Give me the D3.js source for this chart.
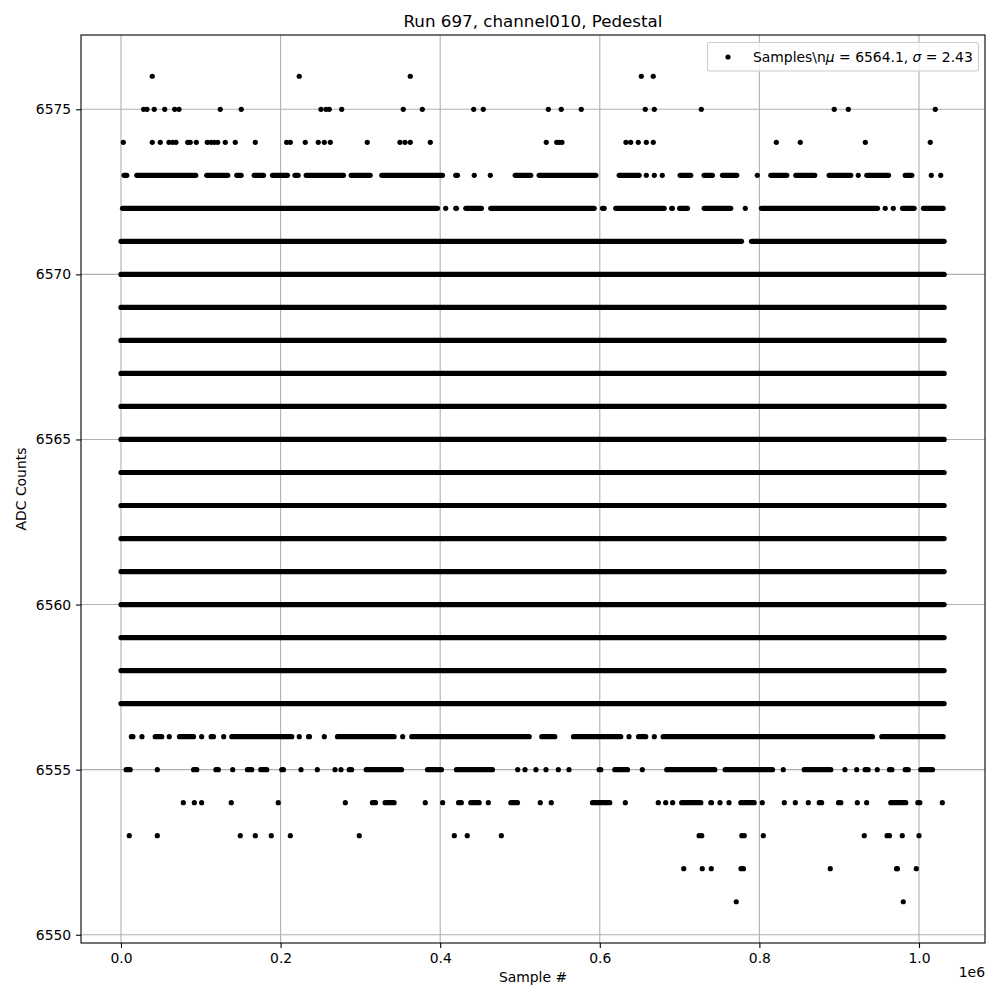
<!DOCTYPE html>
<html>
<head>
<meta charset="utf-8">
<script src="https://cdn.jsdelivr.net/npm/d3@7"></script>
<style>
  html, body { margin: 0; padding: 0; background: #fff; }
  text { font-family: "DejaVu Sans", sans-serif; fill: #000; }
</style>
</head>
<body>
<svg id="chart" width="1000" height="1000"></svg>
<script>
// ---------------- DATA ----------------
// Sample positions are in thousands of samples.
// A plain number = one sample; a pair [from, to] = a dense run of samples at that ADC value.
const chartTitle = "Run 697, channel010, Pedestal";
const xLabel = "Sample #";
const yLabel = "ADC Counts";
const legendLabel = "Samples\\n";
const meanValue = 6564.1;
const sigmaValue = 2.43;

const xTickValues = [0, 200000, 400000, 600000, 800000, 1000000];
const xTickLabels = ["0.0", "0.2", "0.4", "0.6", "0.8", "1.0"];
const xOffsetLabel = "1e6";
const yTickValues = [6550, 6555, 6560, 6565, 6570, 6575];
const yTickLabels = ["6550", "6555", "6560", "6565", "6570", "6575"];
const xLimits = [-50100, 1082700];
const yLimits = [6549.75, 6577.25];

const lastSample = 1031.5;

const samples6576 = [39.2, 223.4, 362.5, 652.0, 667.0];
const samples6575 = [28.4, 32.6, 41.7, 54.8, 67.3, 72.7, 124.4, 150.7, 250.6, 256.9, 261.0, 276.6,
  353.7, 377.6, 442.0, 454.0, 535.5, 551.7, 576.8, 657.0, 668.3, 727.2, 893.8, 911.4, 1020.4];
const samples6574 = [2.9, 39.2, 49.2, 60.1, 64.8, 68.9, 83.6, 86.8, 94.4, 108.1, 112.8, 116.9, 121.2,
  130.7, 143.2, 168.3, 207.6, 212.2, 230.9, 247.2, 254.8, 262.3, 308.6, 349.6, 355.9, 362.5, 387.6,
  532.9, 546.0, 549.2, 552.6, 632.8, 638.7, 648.2, 658.3, 667.0, 821.2, 851.2, 932.7, 1014.1];
const samples6573 = [[3.9, 7.3], [19.8, 93.7], [107.5, 133.8], [145.1, 150.6], [166.9, 178.6],
  [189.8, 208.6], [218, 222], [232.1, 278.8], [288.5, 312.3], [326.8, 402.9], [419.5, 421.7],
  442.7, 462.8, [494.0, 513.5], [524.0, 595.0], [624.3, 649.3], 658.3, 668.3, 678.3,
  [700.7, 714.0], [730.7, 741.1], [753.7, 771.6], 797.4, [814.3, 834.3], [845.6, 869.4],
  [887.4, 914.5], 923.9, [934.6, 961.8], [982.7, 991.0], 1015.4, 1027.2];
const samples6572 = [[1.9, 396.6], 406.9, [419.5, 420.4], [432.1, 451.7], [463.4, 593.0],
  [603.4, 605.5], [620.0, 680.7], [690.0, 691.0], [700.0, 709.9], [730.8, 764.1], 782.3,
  [802.6, 948.0], 957.7, 967.8, [979.3, 993.9], [1005.6, 1030.3]];
const samples6571 = [[0, 777.6], [790.1, lastSample]];
const samplesFull = [[0, lastSample]];   // 6557 ... 6570 are filled over the whole run
const samples6556 = [[13, 15], 26.3, [42.9, 51.1], 60.5, [73.3, 90.9], 101.1, [113.0, 115.9], 128.7,
  [138.8, 214.0], 223.4, [235.0, 236.2], 254.8, [271.3, 342.3], 353.0, [364.4, 511.5],
  [527.3, 543.6], [567.0, 626.3], 636.6, [648.5, 657.6], 668.3, [679.4, 941.7], [953.4, 1030.3]];
const samples6555 = [[6.5, 11.5], 45.5, [91, 95], [119, 122], 140.0, [158.5, 163.9], [175.2, 182.7],
  [201.5, 203.6], 225.6, 246.0, 268.2, 275.7, [286, 289], [307.3, 351.5], [384.1, 401.6],
  [420.4, 465.5], 497.1, 506.3, 520.0, 532.6, 548.0, 561.4, [599.2, 601.3], [618.8, 634.7], 653.3,
  [683.9, 744.1], [757.1, 816.4], 829.9, [856.1, 889.5], 907.2, 921.9, [932.5, 936.3], 947.7,
  [963, 966], [982.7, 986.5], [1002.2, 1016.9]];
const samples6554 = [78.1, 91.9, 101.1, 138.2, 197.1, 281.1, [315, 319], [331, 342.3], 381.3, 403.1,
  [423, 426.5], [438.3, 448.9], 460.3, [488.5, 496.9], 525.4, 539.2, [590.8, 612.5], 632.0, 673.3,
  682.6, 691.3, [702.6, 726.6], [739.1, 740.0], 750.6, 761.9, [776.7, 793.5], 803.6, 831.2, 845.0,
  861.3, [875, 878], [899.1, 902.0], 922.7, 934.4, [964.6, 983.4], [998.5, 1001], 1029.2];
const samples6553 = [10.4, 45.5, 149.5, 168.3, 188.3, 212.2, 298.6, 417.7, 433.9, 476.6, 724.5,
  727.8, 778.0, 781.0, 804.9, 931.4, 960.0, 963.0, 979.0, 1000.0];
const samples6552 = [705.2, 728.4, 739.7, 777.0, 780.0, 888.8, 971.8, 973.0, 996.6];
const samples6551 = [771.0, 980.3];

const adcRows = [
  [6576, samples6576], [6575, samples6575], [6574, samples6574], [6573, samples6573],
  [6572, samples6572], [6571, samples6571],
  [6570, samplesFull], [6569, samplesFull], [6568, samplesFull], [6567, samplesFull],
  [6566, samplesFull], [6565, samplesFull], [6564, samplesFull], [6563, samplesFull],
  [6562, samplesFull], [6561, samplesFull], [6560, samplesFull], [6559, samplesFull],
  [6558, samplesFull], [6557, samplesFull],
  [6556, samples6556], [6555, samples6555], [6554, samples6554], [6553, samples6553],
  [6552, samples6552], [6551, samples6551]
];

// ---------------- CHART ----------------
(function () {
const svg = d3.select("#chart");
const axL = 81, axR = 985, axT = 35, axB = 943;
const fs = 13.9;
const markerR = 2.6;

const x = d3.scaleLinear().domain(xLimits).range([axL, axR]);
const y = d3.scaleLinear().domain(yLimits).range([axB, axT]);

svg.append("rect").attr("width", 1000).attr("height", 1000).attr("fill", "#fff");

// grid
const grid = svg.append("g");
grid.selectAll(".gx").data(xTickValues).join("line")
  .attr("x1", d => x(d)).attr("x2", d => x(d)).attr("y1", axT).attr("y2", axB)
  .attr("stroke", "#b0b0b0").attr("stroke-width", 1.1);
grid.selectAll(".gy").data(yTickValues).join("line")
  .attr("x1", axL).attr("x2", axR).attr("y1", d => y(d)).attr("y2", d => y(d))
  .attr("stroke", "#b0b0b0").attr("stroke-width", 1.1);

// data
const runs = [], points = [];
adcRows.forEach(([adc, items]) => {
  items.forEach(it => {
    if (Array.isArray(it)) runs.push({adc, from: it[0] * 1000, to: it[1] * 1000});
    else points.push({adc, at: it * 1000});
  });
});
const plot = svg.append("g");
plot.selectAll("line.run").data(runs).join("line").attr("class", "run")
  .attr("x1", d => x(d.from)).attr("x2", d => x(d.to))
  .attr("y1", d => y(d.adc)).attr("y2", d => y(d.adc))
  .attr("stroke", "#000").attr("stroke-width", markerR * 2).attr("stroke-linecap", "round");
plot.selectAll("circle.pt").data(points).join("circle").attr("class", "pt")
  .attr("cx", d => x(d.at)).attr("cy", d => y(d.adc)).attr("r", markerR).attr("fill", "#000");

// spines
svg.append("rect").attr("x", axL).attr("y", axT).attr("width", axR - axL).attr("height", axB - axT)
  .attr("fill", "none").attr("stroke", "#000").attr("stroke-width", 1.1);

// x axis
const xAxis = d3.axisBottom(x).tickValues(xTickValues).tickSizeInner(4.9).tickSizeOuter(0).tickPadding(4.9)
  .tickFormat((d, i) => xTickLabels[i]);
const gx = svg.append("g").attr("transform", `translate(0,${axB})`).call(xAxis);
gx.select(".domain").remove();
gx.selectAll(".tick line").attr("stroke", "#000").attr("stroke-width", 1.1);
gx.selectAll(".tick text").attr("font-size", fs).attr("font-family", "DejaVu Sans").attr("fill", "#000");

// y axis
const yAxis = d3.axisLeft(y).tickValues(yTickValues).tickSizeInner(4.9).tickSizeOuter(0).tickPadding(4.9)
  .tickFormat((d, i) => yTickLabels[i]);
const gy = svg.append("g").attr("transform", `translate(${axL},0)`).call(yAxis);
gy.select(".domain").remove();
gy.selectAll(".tick line").attr("stroke", "#000").attr("stroke-width", 1.1);
gy.selectAll(".tick text").attr("font-size", fs).attr("font-family", "DejaVu Sans").attr("fill", "#000");

// offset text
svg.append("text").attr("x", axR).attr("y", 977).attr("text-anchor", "end")
  .attr("font-size", fs).text(xOffsetLabel);

// labels
svg.append("text").attr("x", (axL + axR) / 2).attr("y", 982).attr("text-anchor", "middle")
  .attr("font-size", fs).text(xLabel);
svg.append("text").attr("transform", `translate(26,${(axT + axB) / 2}) rotate(-90)`)
  .attr("text-anchor", "middle").attr("font-size", fs).text(yLabel);
svg.append("text").attr("x", (axL + axR) / 2).attr("y", 26.5).attr("text-anchor", "middle")
  .attr("font-size", 16.7).text(chartTitle);

// legend
const lg = svg.append("g");
lg.append("rect").attr("x", 707.5).attr("y", 42.5).attr("width", 271).attr("height", 28.5)
  .attr("rx", 2.5).attr("fill", "#fff").attr("fill-opacity", 0.8)
  .attr("stroke", "#cccccc").attr("stroke-width", 1.1);
lg.append("circle").attr("cx", 728).attr("cy", 57).attr("r", markerR).attr("fill", "#000");
const lt = lg.append("text").attr("x", 753).attr("y", 61.8).attr("font-size", fs);
lt.append("tspan").text(legendLabel);
lt.append("tspan").attr("font-style", "italic").text("μ");
lt.append("tspan").text(` = ${meanValue.toFixed(1)}, `);
lt.append("tspan").attr("font-style", "italic").text("σ");
lt.append("tspan").text(` = ${sigmaValue.toFixed(2)}`);
})();
</script>
</body>
</html>
